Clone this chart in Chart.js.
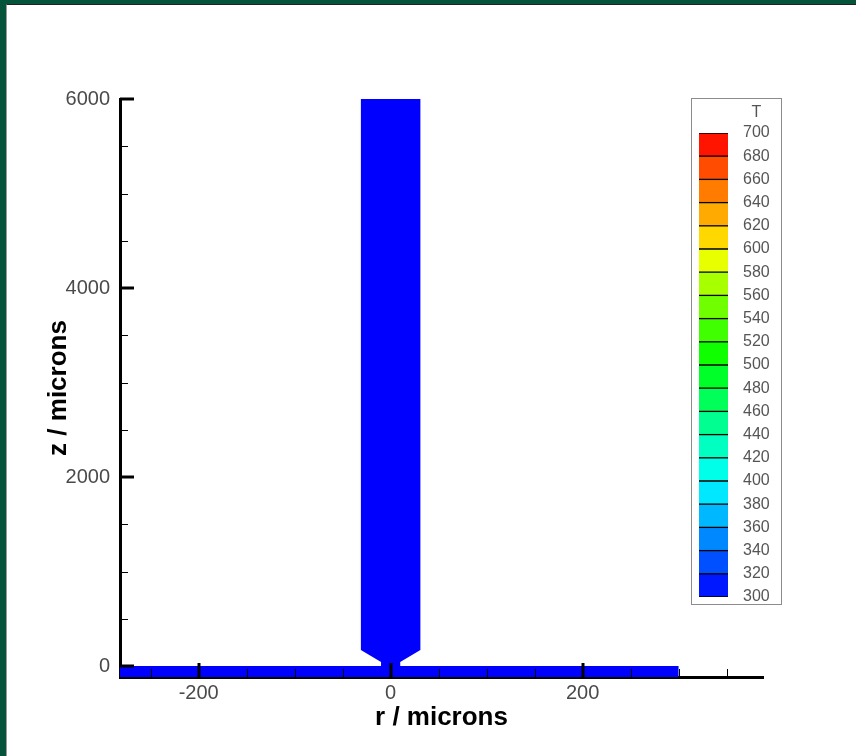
<!DOCTYPE html>
<html lang="en">
<head>
    <meta charset="UTF-8">
    <title>T field - r / z</title>
    <script src="https://cdn.jsdelivr.net/npm/chart.js"></script>
    <style>
        html, body {
            margin: 0;
            padding: 0;
            width: 856px;
            height: 756px;
            overflow: hidden;
            background-color: #06533b;
        }
        #panel {
            position: absolute;
            left: 6px;
            top: 4px;
            right: 0;
            bottom: 0;
            background-color: #ffffff;
            border-left: 1px solid #9a9a9a;
            border-top: 1px solid #222222;
        }
        #main {
            position: absolute;
            left: 0;
            top: 0;
        }
        #legendBox {
            position: absolute;
            left: 691px;
            top: 98px;
            width: 89px;
            height: 505px;
            border: 1px solid #8c8c8c;
            background-color: #ffffff;
        }
        #legend {
            display: block;
        }
    </style>
</head>
<body>
    <div id="panel"></div>
    <canvas id="main" width="856" height="756"></canvas>
    <div id="legendBox"><canvas id="legend" width="89" height="505"></canvas></div>

    <script>
        // axis ranges and ticks (microns)
        const rRange = [-282, 388];
        const zRange = [-116, 6000];
        const rMajor = [-200, 0, 200];
        const rMinor = [-250, -150, -100, -50, 50, 100, 150, 250, 300, 350];
        const zMajor = [0, 2000, 4000, 6000];
        const zMinor = [500, 1000, 1500, 2500, 3000, 3500, 4500, 5000, 5500];

        // geometry outlines (r, z)
        const fiberR = [-31, 31, 31, 10, 10, -10, -10, -31];
        const fiberZ = [6000, 6000, 170, 42, 0, 0, 42, 170];
        const substrateR = [-300, 300, 300, -300];
        const substrateZ = [0, 0, -200, -200];

        // contour levels of T and their colours (bottom to top)
        const tLevels = [300, 320, 340, 360, 380, 400, 420, 440, 460, 480, 500,
                         520, 540, 560, 580, 600, 620, 640, 660, 680, 700];
        const tColors = ['#0018ff', '#0050ff', '#0088ff', '#00b8ff', '#00e8ff',
                         '#00ffe8', '#00ffc0', '#00ff90', '#00ff58', '#00ff28',
                         '#10ff00', '#40ff00', '#70ff00', '#a8ff00', '#e8ff00',
                         '#ffd800', '#ffaa00', '#ff7c00', '#ff4c00', '#ff1400'];
        const tField = 300;   // whole domain sits at the lowest level

        function colorFor(t) {
            for (let i = 0; i < tColors.length; i++) {
                if (t < tLevels[i + 1]) return i === 0 ? '#0000ff' : tColors[i];
            }
            return tColors[tColors.length - 1];
        }

        const toPoints = (rs, zs) => rs.map((r, i) => ({x: r, y: zs[i]}));

        // inward tick marks, drawn over the shapes
        const tickMarks = {
            id: 'tickMarks',
            afterDraw(chart) {
                const {ctx, chartArea, scales} = chart;
                const x = scales.x, y = scales.y;
                ctx.save();
                ctx.strokeStyle = '#000000';
                const seg = (x1, y1, x2, y2, w) => {
                    ctx.lineWidth = w;
                    ctx.beginPath();
                    ctx.moveTo(x1, y1);
                    ctx.lineTo(x2, y2);
                    ctx.stroke();
                };
                rMajor.forEach(v => {
                    const px = Math.round(x.getPixelForValue(v));
                    seg(px, chartArea.bottom, px, chartArea.bottom - 14, 3);
                });
                rMinor.forEach(v => {
                    const px = Math.round(x.getPixelForValue(v)) + 0.5;
                    seg(px, chartArea.bottom, px, chartArea.bottom - 8, 1);
                });
                zMajor.forEach(v => {
                    const py = Math.round(y.getPixelForValue(v));
                    seg(chartArea.left, py, chartArea.left + 14, py, 3);
                });
                zMinor.forEach(v => {
                    const py = Math.round(y.getPixelForValue(v)) + 0.5;
                    seg(chartArea.left, py, chartArea.left + 8, py, 1);
                });
                ctx.restore();
            }
        };

        const tickFont = {family: "'Liberation Sans', Arial, sans-serif", size: 20};
        const titleFont = {family: "'Liberation Sans', Arial, sans-serif", size: 26, weight: 'bold'};

        new Chart(document.getElementById('main').getContext('2d'), {
            type: 'scatter',
            data: {
                datasets: [
                    {
                        label: 'substrate',
                        data: toPoints(substrateR, substrateZ),
                        showLine: true,
                        fill: 'shape',
                        backgroundColor: colorFor(tField),
                        borderWidth: 0,
                        pointRadius: 0
                    },
                    {
                        label: 'fiber',
                        data: toPoints(fiberR, fiberZ),
                        showLine: true,
                        fill: 'shape',
                        backgroundColor: colorFor(tField),
                        borderWidth: 0,
                        pointRadius: 0
                    }
                ]
            },
            options: {
                responsive: false,
                animation: false,
                events: [],
                layout: {padding: {top: 99, right: 93, left: 0, bottom: 0}},
                plugins: {
                    legend: {display: false},
                    tooltip: {enabled: false}
                },
                scales: {
                    x: {
                        type: 'linear',
                        position: 'bottom',
                        min: rRange[0],
                        max: rRange[1],
                        z: 1,
                        afterBuildTicks: s => { s.ticks = rMajor.concat(rMinor).sort((a, b) => a - b).map(v => ({value: v})); },
                        afterFit: s => { s.height = 79; },
                        grid: {display: false, drawTicks: false},
                        border: {display: true, color: '#000000', width: 3},
                        ticks: {
                            autoSkip: false,
                            maxRotation: 0,
                            padding: 4,
                            color: '#4a4a4a',
                            font: tickFont,
                            callback: v => rMajor.includes(v) ? String(v) : ''
                        },
                        title: {
                            display: true,
                            text: 'r / microns',
                            color: '#000000',
                            font: titleFont,
                            padding: {top: 0, bottom: 23}
                        }
                    },
                    y: {
                        type: 'linear',
                        position: 'left',
                        min: zRange[0],
                        max: zRange[1],
                        z: 1,
                        afterBuildTicks: s => { s.ticks = zMajor.concat(zMinor).sort((a, b) => a - b).map(v => ({value: v})); },
                        afterFit: s => { s.width = 120; },
                        grid: {display: false, drawTicks: false},
                        border: {display: true, color: '#000000', width: 3},
                        ticks: {
                            autoSkip: false,
                            padding: 10,
                            color: '#4a4a4a',
                            font: tickFont,
                            callback: v => zMajor.includes(v) ? String(v) : ''
                        },
                        title: {
                            display: true,
                            text: 'z / microns',
                            color: '#000000',
                            font: titleFont,
                            padding: {top: 43, bottom: 0}
                        }
                    }
                }
            },
            plugins: [tickMarks]
        });

        // colour legend for T
        const legendFont = {family: "'Liberation Sans', Arial, sans-serif", size: 16};
        const legendTitle = {
            id: 'legendTitle',
            afterDraw(chart) {
                const {ctx} = chart;
                const s = chart.scales.y;
                ctx.save();
                ctx.font = "16px 'Liberation Sans', Arial, sans-serif";
                ctx.fillStyle = '#555555';
                ctx.textAlign = 'center';
                ctx.textBaseline = 'middle';
                const w = ctx.measureText('700').width;
                ctx.fillText('T', s.left + 15 + w / 2, 14);
                ctx.restore();
            }
        };

        new Chart(document.getElementById('legend').getContext('2d'), {
            type: 'bar',
            data: {
                labels: [''],
                datasets: tColors.map((c, i) => ({
                    label: tLevels[i] + '-' + tLevels[i + 1],
                    data: [[tLevels[i], tLevels[i + 1]]],
                    backgroundColor: c,
                    borderColor: '#000000',
                    borderWidth: {top: 1, bottom: 1, left: 0, right: 0},
                    borderSkipped: false,
                    barPercentage: 1,
                    categoryPercentage: 1,
                    grouped: false
                }))
            },
            options: {
                responsive: false,
                animation: false,
                events: [],
                layout: {padding: {top: 34, bottom: 7, left: 7, right: 0}},
                plugins: {
                    legend: {display: false},
                    tooltip: {enabled: false}
                },
                scales: {
                    x: {display: false},
                    y: {
                        position: 'right',
                        min: tLevels[0],
                        max: tLevels[tLevels.length - 1],
                        afterBuildTicks: s => { s.ticks = tLevels.map(v => ({value: v})); },
                        afterFit: s => {
                            s.width = 53;
                            s.paddingTop = 0;
                            s.paddingBottom = 0;
                        },
                        grid: {display: false, drawTicks: false},
                        border: {display: false},
                        ticks: {
                            autoSkip: false,
                            padding: 15,
                            color: '#555555',
                            font: legendFont,
                            callback: v => String(v)
                        }
                    }
                }
            },
            plugins: [legendTitle]
        });
    </script>
</body>
</html>
